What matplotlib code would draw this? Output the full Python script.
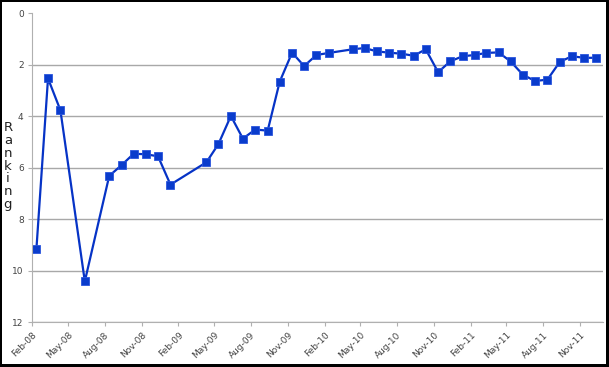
import datetime as dt
import matplotlib
matplotlib.use("Agg")
import matplotlib.pyplot as plt
import matplotlib.dates as mdates
from matplotlib.patches import Rectangle

# month of each observation (year, month) and ranking value
months = [
    (2008, 2), (2008, 3), (2008, 4), (2008, 6), (2008, 8), (2008, 9), (2008, 10),
    (2008, 11), (2008, 12), (2009, 1), (2009, 4), (2009, 5), (2009, 6), (2009, 7),
    (2009, 8), (2009, 9), (2009, 10), (2009, 11), (2009, 12), (2010, 1), (2010, 2),
    (2010, 4), (2010, 5), (2010, 6), (2010, 7), (2010, 8), (2010, 9), (2010, 10),
    (2010, 11), (2010, 12), (2011, 1), (2011, 2), (2011, 3), (2011, 4), (2011, 5),
    (2011, 6), (2011, 7), (2011, 8), (2011, 9), (2011, 10), (2011, 11), (2011, 12),
]
ranking = [
    9.17, 2.53, 3.77, 10.42, 6.32, 5.9, 5.46, 5.48, 5.56, 6.66, 5.79, 5.08, 3.99, 4.87,
    4.52, 4.56, 2.66, 1.53, 2.05, 1.62, 1.54, 1.40, 1.35, 1.48, 1.53, 1.57, 1.65, 1.40,
    2.29, 1.87, 1.67, 1.62, 1.54, 1.52, 1.87, 2.39, 2.63, 2.58, 1.89, 1.67, 1.73, 1.73,
]
y_ticks = [0, 2, 4, 6, 8, 10, 12]

dates = [dt.date(y, m, 12) for y, m in months]

fig = plt.figure(figsize=(6.09, 3.67), dpi=100)
ax = fig.add_axes([32 / 609, 45 / 367, 571 / 609, 308.7 / 367])

ax.plot(dates, ranking, color="#0633c6", linewidth=1.6, marker="s", markersize=5.3,
        markerfacecolor="#0a3ccc", markeredgecolor="#2a55dd", markeredgewidth=0.6)

ax.set_ylim(12, 0)
ax.set_yticks(y_ticks)
ax.set_xlim(dt.date(2008, 2, 1), dt.date(2011, 12, 29))
ax.xaxis.set_major_locator(mdates.MonthLocator(bymonth=[2, 5, 8, 11]))
ax.xaxis.set_major_formatter(mdates.DateFormatter("%b-%y"))

ax.grid(axis="y", color="#a8a8a8", linewidth=1)
ax.yaxis.get_gridlines()[0].set_visible(False)
ax.set_axisbelow(True)
for side in ["top", "right"]:
    ax.spines[side].set_visible(False)
for side in ["left", "bottom"]:
    ax.spines[side].set_color("#b0b0b0")
ax.tick_params(colors="#b0b0b0", labelcolor="#444444", labelsize=6.5, length=3, pad=3)
plt.setp(ax.get_xticklabels(), rotation=45, ha="right", rotation_mode="anchor")

fig.text(8 / 609, 1 - 166 / 367, "R\na\nn\nk\ni\nn\ng", ha="center", va="center",
         fontsize=9.5, linespacing=0.98, color="#222222")

# black frame round the picture, thicker on the right and bottom
frame = [
    (0, 0, 1.5 / 609, 1),
    (0, 1 - 2 / 367, 1, 2 / 367),
    (1 - 3.5 / 609, 0, 3.5 / 609, 1),
    (0, 0, 1, 3 / 367),
]
for x0, y0, w, h in frame:
    fig.patches.append(Rectangle((x0, y0), w, h, transform=fig.transFigure,
                                 facecolor="black", edgecolor="none", zorder=10))

fig.savefig("out.png", dpi=100)
